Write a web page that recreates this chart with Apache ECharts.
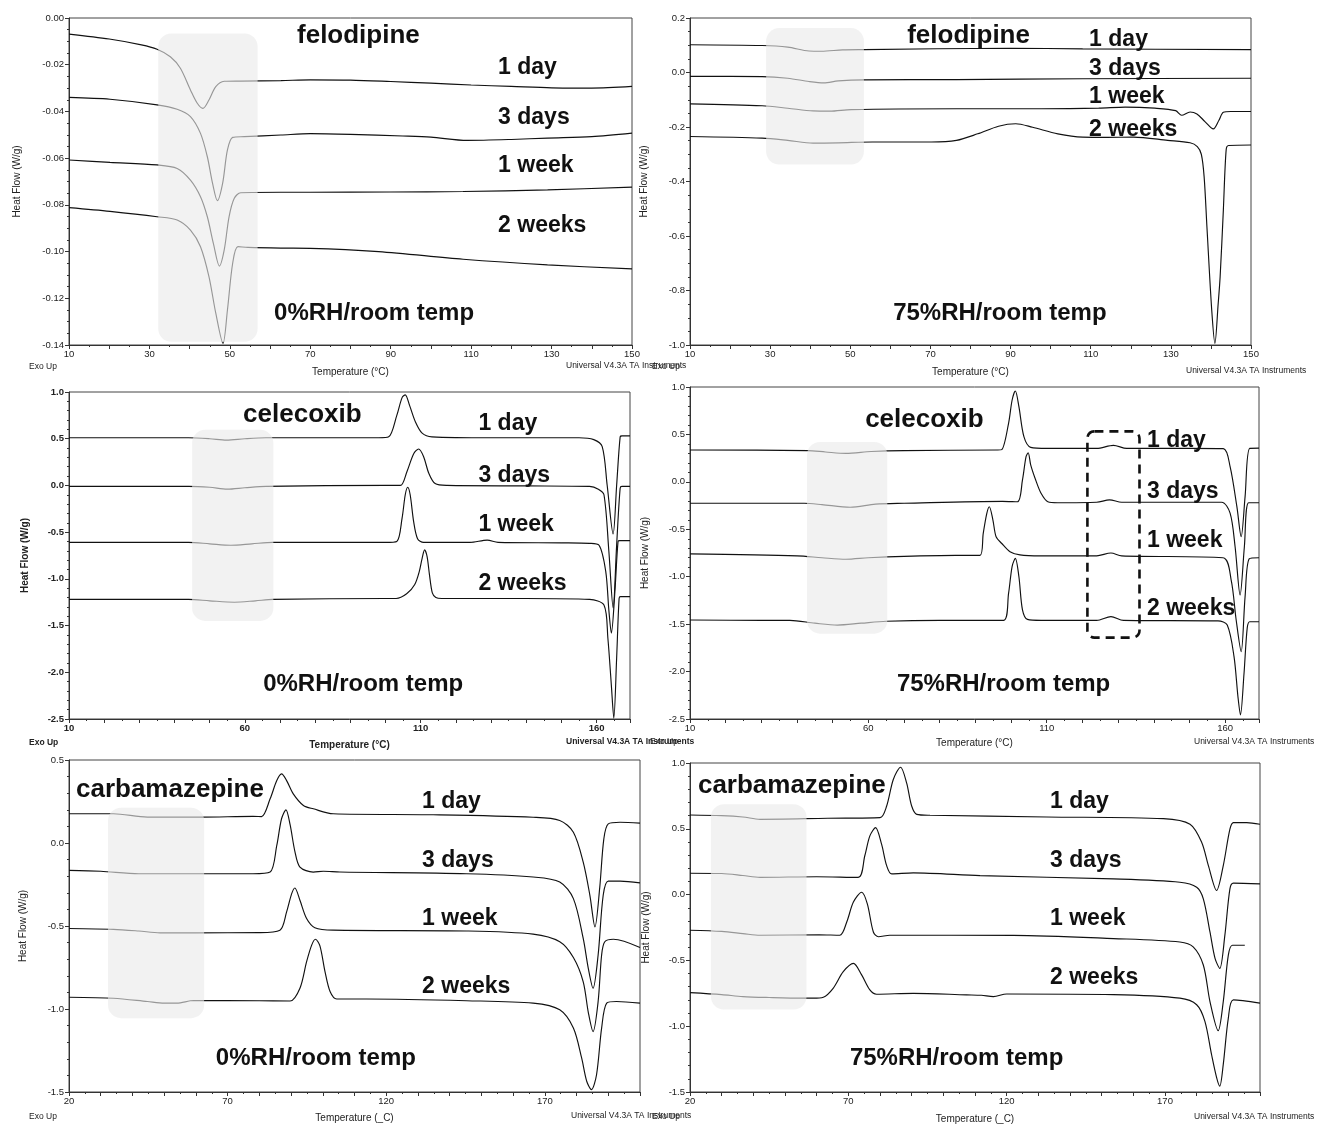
<!DOCTYPE html>
<html><head><meta charset="utf-8">
<script src="https://cdn.jsdelivr.net/npm/echarts@6/dist/echarts.min.js"></script>
<style>html,body{margin:0;padding:0;background:#fff}#c{width:1322px;height:1125px}</style>
</head><body><div id="c"></div>
<script>
// ---------------- DATA (temperature °C, heat flow W/g) ----------------
const dayLabels = ['1 day', '3 days', '1 week', '2 weeks'];
const compoundNames = ['felodipine', 'felodipine', 'celecoxib', 'celecoxib', 'carbamazepine', 'carbamazepine'];
const conditionLabels = ['0%RH/room temp', '75%RH/room temp', '0%RH/room temp', '75%RH/room temp', '0%RH/room temp', '75%RH/room temp'];

// felodipine 0%RH
const felo0_1day = [[10,-0.0069],[20,-0.0090],[28,-0.0115],[31.9,-0.0134],[35.2,-0.0166],[37.7,-0.0215],[40.2,-0.0308],[41.9,-0.0365],[43.3,-0.0387],[44.8,-0.0351],[46.5,-0.0294],[48.6,-0.0271],[52.7,-0.0270],[62.7,-0.0268],[70,-0.0265],[80,-0.0266],[90,-0.0272],[100,-0.0279],[110,-0.0287],[120,-0.0293],[130,-0.0299],[140,-0.0300],[150,-0.0293]];
const felo0_3day = [[10,-0.0340],[20.2,-0.0348],[31.9,-0.0372],[36.9,-0.0391],[40.2,-0.0422],[42.7,-0.0494],[44.4,-0.0594],[45.7,-0.0708],[46.9,-0.0782],[48.2,-0.0708],[49.4,-0.0565],[50.7,-0.0511],[53.6,-0.0508],[62.7,-0.0501],[70,-0.0495],[80,-0.0498],[93,-0.0505],[100,-0.0510],[109,-0.0524],[120,-0.0520],[129,-0.0514],[140,-0.0508],[150,-0.0493]];
const felo0_1week = [[10,-0.0608],[20.2,-0.0618],[31.9,-0.0629],[36.9,-0.0644],[40.2,-0.0694],[42.7,-0.0765],[44.4,-0.0851],[45.9,-0.0965],[47.4,-0.1062],[48.6,-0.0993],[49.8,-0.0851],[51.1,-0.0772],[52.7,-0.0748],[62.7,-0.0746],[70,-0.0746],[90,-0.0745],[108,-0.0743],[129,-0.0736],[150,-0.0724]];
const felo0_2week = [[10,-0.0812],[20.2,-0.0828],[31.9,-0.0851],[36.9,-0.0865],[40.2,-0.0908],[42.7,-0.0979],[44.8,-0.1107],[46.5,-0.1264],[48.3,-0.1393],[49.4,-0.1250],[50.7,-0.1050],[52.0,-0.0979],[54.5,-0.0982],[62.7,-0.0985],[70,-0.0986],[87,-0.1000],[108,-0.1033],[129,-0.1057],[150,-0.1074]];

// felodipine 75%RH
const felo75_1day = [[10,0.102],[28,0.099],[34.4,0.093],[39.7,0.079],[42.8,0.078],[48.1,0.083],[53.4,0.084],[90,0.089],[108,0.0865],[150,0.084]];
const felo75_3day = [[10,-0.014],[28,-0.015],[34.4,-0.021],[39.7,-0.033],[43.4,-0.038],[47,-0.031],[53.4,-0.027],[76.5,-0.026],[108,-0.023],[150,-0.021]];
const felo75_1week = [[10,-0.115],[28,-0.122],[34.4,-0.131],[40.7,-0.141],[44.9,-0.142],[50.2,-0.136],[76.5,-0.133],[97.6,-0.133],[112,-0.131],[118.6,-0.127],[126,-0.131],[131.2,-0.140],[132.7,-0.157],[134.8,-0.145],[136.5,-0.152],[138.5,-0.180],[140.6,-0.207],[142,-0.175],[143.1,-0.146],[145,-0.143],[150,-0.143]];
const felo75_2week = [[10,-0.235],[28,-0.241],[34.4,-0.249],[40.7,-0.259],[47,-0.258],[55.5,-0.255],[70.2,-0.255],[76.5,-0.249],[81.8,-0.225],[87,-0.197],[91.3,-0.188],[95.5,-0.201],[101.8,-0.225],[108,-0.237],[114,-0.238],[120.7,-0.237],[129.2,-0.249],[134.8,-0.258],[136.6,-0.272],[137.6,-0.300],[138.3,-0.382],[139,-0.566],[140.2,-0.872],[141,-0.994],[141.8,-0.850],[142.3,-0.749],[143.1,-0.505],[143.8,-0.284],[144.4,-0.268],[150,-0.266]];

// celecoxib 0%RH
const cele0_1day = [[10,0.51],[44,0.51],[50,0.50],[54.8,0.485],[60,0.50],[66,0.51],[98,0.51],[100.9,0.52],[103.2,0.75],[104.7,0.94],[105.6,0.97],[106.8,0.86],[108.5,0.68],[110.4,0.56],[113.2,0.52],[130,0.51],[155,0.51],[159.2,0.49],[161.6,0.415],[163,0.005],[164.7,-0.52],[165.7,0.0],[166.7,0.52],[167.2,0.53],[169.5,0.53]];
const cele0_3day = [[10,-0.01],[44,-0.01],[50,-0.02],[55,-0.04],[60,-0.025],[66,-0.01],[100,0.0],[104.2,0.0],[106.1,0.15],[108,0.34],[109.4,0.39],[110.8,0.31],[112.3,0.13],[114.1,0.02],[117.5,0.0],[140,-0.005],[158,-0.01],[160.5,-0.04],[162.1,-0.10],[163.5,-0.71],[164.7,-1.31],[165.7,-0.64],[166.7,-0.03],[167.2,-0.01],[169.5,-0.01]];
const cele0_1week = [[10,-0.61],[44,-0.61],[50,-0.625],[56,-0.64],[62,-0.625],[68,-0.61],[100,-0.61],[103.2,-0.60],[104.7,-0.35],[105.6,-0.10],[106.3,-0.02],[107,-0.10],[108,-0.39],[109.1,-0.57],[110.8,-0.61],[124,-0.61],[128.9,-0.585],[132,-0.61],[150,-0.615],[158,-0.62],[160.7,-0.64],[162.6,-0.92],[163.5,-1.34],[164.2,-1.58],[165.2,-1.14],[166.1,-0.60],[166.6,-0.59],[169.5,-0.59]];
const cele0_2week = [[10,-1.22],[44,-1.22],[50,-1.235],[57,-1.25],[63,-1.235],[68,-1.22],[100,-1.21],[103,-1.21],[106,-1.16],[108.3,-1.06],[109.6,-0.92],[110.4,-0.78],[111.1,-0.69],[111.8,-0.76],[112.5,-0.96],[113.3,-1.15],[114.3,-1.20],[116,-1.21],[140,-1.21],[158,-1.22],[162.1,-1.28],[163.2,-1.63],[164.2,-2.14],[164.9,-2.49],[165.7,-1.85],[166.4,-1.21],[166.8,-1.19],[169.5,-1.19]];

// celecoxib 75%RH
const cele75_1day = [[10,0.336],[43,0.33],[48,0.315],[53.7,0.30],[60.8,0.32],[70,0.33],[96.2,0.336],[97.4,0.34],[99.3,0.617],[100.3,0.863],[101.2,0.958],[102.2,0.792],[103.6,0.476],[105.5,0.364],[110.1,0.353],[124,0.353],[128.7,0.385],[132.4,0.353],[150,0.353],[159.5,0.35],[161.4,0.16],[163.3,-0.262],[164.5,-0.578],[165.6,-0.156],[166.9,0.353],[169.5,0.355]];
const cele75_3day = [[10,-0.226],[42,-0.226],[47,-0.24],[54.9,-0.268],[62,-0.235],[70,-0.226],[97.6,-0.205],[101.8,-0.21],[103.2,0.02],[104.2,0.265],[104.8,0.307],[105.5,0.18],[106.9,0.02],[108.4,-0.12],[110.3,-0.21],[113.1,-0.22],[124,-0.215],[127.6,-0.19],[131,-0.215],[159,-0.215],[161.4,-0.33],[162.8,-0.684],[164.2,-1.193],[165.4,-0.684],[166.6,-0.22],[169.5,-0.22]];
const cele75_1week = [[10,-0.76],[40,-0.78],[47,-0.80],[53.7,-0.816],[60,-0.80],[70,-0.785],[84.4,-0.775],[91.3,-0.775],[92.2,-0.543],[93.2,-0.332],[93.9,-0.262],[94.9,-0.40],[95.8,-0.578],[97.4,-0.65],[99.7,-0.736],[102.5,-0.77],[108.2,-0.78],[124,-0.78],[128,-0.75],[131,-0.78],[159.4,-0.80],[161.7,-1.035],[163.1,-1.456],[164.5,-1.79],[165.6,-1.21],[166.8,-0.81],[169.5,-0.80]];
const cele75_2week = [[10,-1.456],[30,-1.46],[38,-1.46],[45,-1.49],[51.3,-1.51],[58,-1.49],[65,-1.47],[80,-1.46],[97.9,-1.46],[99.3,-1.175],[100.3,-0.89],[101.2,-0.806],[102.2,-1.0],[103.2,-1.35],[104.6,-1.45],[108.4,-1.46],[124,-1.46],[128,-1.42],[131.5,-1.46],[158,-1.465],[160.6,-1.51],[162.5,-1.843],[163.6,-2.265],[164.3,-2.458],[165.3,-2.02],[166.2,-1.54],[166.9,-1.475],[169.5,-1.475]];

// carbamazepine 0%RH
const carb0_1day = [[20,0.176],[34,0.176],[44.7,0.156],[62,0.156],[78,0.16],[80.7,0.159],[83.4,0.266],[85.5,0.376],[87,0.416],[88.6,0.376],[90.7,0.296],[93.9,0.226],[97,0.206],[103.3,0.176],[134.8,0.17],[166.3,0.155],[174.7,0.136],[179,0.065],[182.1,-0.115],[184.2,-0.315],[185.8,-0.505],[187.3,-0.27],[188.6,0.025],[190,0.115],[193.7,0.125],[200,0.12]];
const carb0_3day = [[20,-0.165],[30,-0.17],[42,-0.185],[60,-0.185],[78,-0.185],[83.4,-0.175],[85.5,-0.015],[87,0.146],[88.4,0.20],[89.7,0.11],[91.2,-0.05],[92.8,-0.145],[97,-0.175],[100.2,-0.17],[105.4,-0.175],[145.3,-0.185],[166.3,-0.205],[174.7,-0.235],[179,-0.335],[182.1,-0.575],[183.7,-0.755],[185.2,-0.875],[186.8,-0.675],[188.4,-0.315],[190,-0.23],[193.7,-0.23],[200,-0.24]];
const carb0_1week = [[20,-0.515],[34,-0.52],[42,-0.53],[48.7,-0.541],[60,-0.541],[80,-0.54],[86.5,-0.525],[88.6,-0.415],[90.2,-0.305],[91.2,-0.271],[92.8,-0.345],[94.9,-0.455],[97.5,-0.51],[103.3,-0.525],[145.3,-0.53],[166.3,-0.549],[174.7,-0.595],[179,-0.69],[182.1,-0.836],[183.7,-1.02],[185.2,-1.136],[186.8,-0.955],[187.9,-0.675],[188.9,-0.595],[191.6,-0.58],[200,-0.63]];
const carb0_2week = [[20,-0.929],[34,-0.935],[44.7,-0.955],[50,-0.965],[54,-0.965],[59.3,-0.949],[80,-0.95],[89.7,-0.952],[92.8,-0.875],[94.9,-0.715],[96.5,-0.615],[97.7,-0.58],[99.1,-0.62],[100.7,-0.775],[102.3,-0.895],[104.4,-0.94],[113.8,-0.94],[145.3,-0.95],[166.3,-0.965],[174.7,-1.005],[179,-1.115],[181.6,-1.295],[183.2,-1.435],[184.7,-1.486],[186.3,-1.396],[187.9,-1.115],[189.5,-0.965],[192.6,-0.955],[200,-0.965]];

// carbamazepine 75%RH
const carb75_1day = [[20,0.605],[30,0.60],[36.7,0.59],[42.1,0.572],[63.5,0.58],[80,0.585],[82.1,0.673],[84.2,0.875],[86.5,0.968],[88.4,0.849],[90,0.673],[91.6,0.61],[95.8,0.603],[132.6,0.59],[169.5,0.577],[177.9,0.535],[181.6,0.396],[183.7,0.22],[186.3,0.031],[188.4,0.22],[190.5,0.497],[191.6,0.547],[195.8,0.547],[200,0.535]];
const carb75_3day = [[20,0.162],[30,0.16],[36.7,0.145],[42.1,0.131],[60,0.136],[73.1,0.131],[75.2,0.295],[76.8,0.446],[78.6,0.509],[80.5,0.383],[82.1,0.22],[83.7,0.157],[90.5,0.165],[111.6,0.144],[153.7,0.119],[174.7,0.094],[180,0.056],[182.1,-0.032],[184.2,-0.284],[185.8,-0.485],[187.3,-0.561],[188.9,-0.31],[190.5,0.044],[191.6,0.087],[200,0.081]];
const carb75_1week = [[20,-0.271],[30,-0.28],[36.7,-0.296],[42.1,-0.309],[60.8,-0.305],[67.3,-0.309],[69.5,-0.208],[71.6,-0.057],[74.2,0.018],[76,-0.07],[77.9,-0.284],[79.5,-0.32],[83.1,-0.309],[122.1,-0.31],[153.7,-0.334],[174.7,-0.36],[178.9,-0.397],[182.1,-0.535],[184.2,-0.813],[186.8,-1.034],[188.4,-0.813],[190,-0.46],[191.3,-0.385],[195.2,-0.385]];
const carb75_2week = [[20,-0.745],[30,-0.76],[36.7,-0.775],[45,-0.782],[55.5,-0.787],[58.9,-0.787],[62.1,-0.78],[65.2,-0.712],[68.4,-0.586],[71.6,-0.523],[74.2,-0.61],[76.8,-0.724],[78.9,-0.757],[90.5,-0.75],[107.3,-0.762],[112,-0.765],[115.8,-0.775],[120,-0.755],[153.7,-0.76],[174.7,-0.787],[180,-0.837],[182.6,-0.963],[184.7,-1.215],[186.3,-1.39],[187.3,-1.455],[188.4,-1.29],[190,-0.938],[191.6,-0.80],[200,-0.825]];

// highlighted regions [T1, v1, T2, v2]
const grayRegions = [
  [32.2, -0.0066, 56.9, -0.1386],
  [29, 0.163, 53.4, -0.338],
  [45, 0.595, 68.1, -1.45],
  [42.8, 0.42, 65.3, -1.60],
  [32.3, 0.213, 62.6, -1.055],
  [26.6, 0.687, 56.8, -0.874]
];
const dashedRegion = [121.4, 0.532, 136.0, -1.642];

// ---------------- LAYOUT ----------------
const FONT = '"Liberation Sans", Arial, Helvetica, sans-serif';
const panels = [
  {grid:{left:69,top:18,width:563,height:327}, xmin:10,xmax:150,xstep:10,xlab:20, ymin:-0.14,ymax:0,yint:0.02,ymin_split:4,dec:2,
   bold:false, xName:'Temperature (°C)', xGap:22, yGap:47,
   series:[felo0_1day,felo0_3day,felo0_1week,felo0_2week],
   comp:[66.7,-0.0077], dayX:116.7, dayY:[-0.0214,-0.0428,-0.0634,-0.0890], cond:[61,-0.1263]},
  {grid:{left:690,top:18,width:561,height:327}, xmin:10,xmax:150,xstep:10,xlab:20, ymin:-1.0,ymax:0.2,yint:0.2,ymin_split:4,dec:1,
   bold:false, xName:'Temperature (°C)', xGap:22, yGap:41,
   series:[felo75_1day,felo75_3day,felo75_1week,felo75_2week],
   comp:[64.2,0.134], dayX:109.6, dayY:[0.119,0.013,-0.090,-0.211], cond:[60.7,-0.883]},
  {grid:{left:69,top:392,width:561,height:327}, xmin:10,xmax:169.5,xstep:10,xlab:50, ymin:-2.5,ymax:1.0,yint:0.5,ymin_split:5,dec:1,
   bold:true, xName:'Temperature (°C)', xGap:21, yGap:39,
   series:[cele0_1day,cele0_3day,cele0_1week,cele0_2week],
   comp:[59.5,0.754], dayX:126.4, dayY:[0.658,0.101,-0.424,-1.055], cond:[65.2,-2.125]},
  {grid:{left:690,top:387,width:569,height:332}, xmin:10,xmax:169.5,xstep:10,xlab:50, ymin:-2.5,ymax:1.0,yint:0.5,ymin_split:5,dec:1,
   bold:false, xName:'Temperature (°C)', xGap:19, yGap:40,
   series:[cele75_1day,cele75_3day,cele75_1week,cele75_2week],
   comp:[59.1,0.652], dayX:138.1, dayY:[0.431,-0.107,-0.623,-1.340], cond:[68.0,-2.131]},
  {grid:{left:69,top:760,width:571,height:332}, xmin:20,xmax:200,xstep:10,xlab:50, ymin:-1.5,ymax:0.5,yint:0.5,ymin_split:5,dec:1,
   bold:false, xName:'Temperature (_C)', xGap:21, yGap:41,
   series:[carb0_1day,carb0_3day,carb0_1week,carb0_2week],
   comp:[22.2,0.319], dayX:131.3, dayY:[0.247,-0.108,-0.458,-0.867], cond:[66.3,-1.295]},
  {grid:{left:690,top:763,width:570,height:329}, xmin:20,xmax:200,xstep:10,xlab:50, ymin:-1.5,ymax:1.0,yint:0.5,ymin_split:5,dec:1,
   bold:false, xName:'Temperature (_C)', xGap:22, yGap:39,
   series:[carb75_1day,carb75_3day,carb75_1week,carb75_2week],
   comp:[22.5,0.825], dayX:133.7, dayY:[0.704,0.255,-0.185,-0.634], cond:[70.5,-1.242]}
];
const footers = [
  {exo:[29,367], uni:[566,366], bold:false},
  {exo:[652,367], uni:[1186,371], bold:false},
  {exo:[29,743], uni:[566,742], bold:true},
  {exo:[650,742], uni:[1194,742], bold:false},
  {exo:[29,1117], uni:[571,1116], bold:false},
  {exo:[652,1117], uni:[1194,1117], bold:false}
];

const chart = echarts.init(document.getElementById('c'), null, {renderer:'canvas'});
const grids = [], xAxes = [], yAxes = [], series = [];
const AX = '#333';
panels.forEach((p, k) => {
  grids.push(Object.assign({show:true, borderColor:'#444', borderWidth:1, backgroundColor:'transparent', containLabel:false}, p.grid));
  const fw = p.bold ? 'bold' : 'normal';
  xAxes.push({
    type:'value', gridIndex:k, min:p.xmin, max:p.xmax, interval:p.xstep,
    name:p.xName, nameLocation:'middle', nameGap:p.xGap,
    nameTextStyle:{fontSize:10, color:'#222', fontFamily:FONT, fontWeight:fw},
    axisLine:{show:true, onZero:false, lineStyle:{color:AX, width:1}},
    axisTick:{show:true, length:4, lineStyle:{color:AX}},
    minorTick:{show:true, splitNumber:2, length:2, lineStyle:{color:AX}},
    splitLine:{show:false},
    axisLabel:{fontSize:9.5, color:'#222', fontFamily:FONT, fontWeight:fw, margin:4, showMaxLabel:true,
      formatter:(v)=>{ const d = Math.round(v - p.xmin); return (Math.abs(v-Math.round(v))<1e-6 && d % p.xlab === 0) ? String(Math.round(v)) : ''; }}
  });
  yAxes.push({
    type:'value', gridIndex:k, min:p.ymin, max:p.ymax, interval:p.yint,
    name:'Heat Flow (W/g)', nameLocation:'middle', nameGap:p.yGap,
    nameTextStyle:{fontSize:10, color:'#222', fontFamily:FONT, fontWeight:fw},
    axisLine:{show:true, onZero:false, lineStyle:{color:AX, width:1}},
    axisTick:{show:true, length:4, lineStyle:{color:AX}},
    minorTick:{show:true, splitNumber:p.ymin_split, length:2, lineStyle:{color:AX}},
    splitLine:{show:false},
    axisLabel:{fontSize:9.5, color:'#222', fontFamily:FONT, fontWeight:fw, margin:5,
      formatter:(v)=>{ const s = v.toFixed(p.dec); return (parseFloat(s)===0) ? (0).toFixed(p.dec) : s; }}
  });
  p.series.forEach((d, j) => {
    series.push({
      type:'line', name:compoundNames[k]+' '+conditionLabels[k]+' '+dayLabels[j],
      xAxisIndex:k, yAxisIndex:k, data:d, showSymbol:false, symbol:'none',
      smooth:0.3, lineStyle:{color:'#111', width:1.15}, z:2, silent:true, animation:false
    });
  });
  // translucent grey highlight (lightens the curves below it)
  series.push({
    type:'custom', xAxisIndex:k, yAxisIndex:k, z:3, silent:true, animation:false, clip:false,
    data:[grayRegions[k]], encode:{x:[0,2], y:[1,3]},
    renderItem:(params, api)=>{
      const a = api.coord([api.value(0), api.value(1)]);
      const b = api.coord([api.value(2), api.value(3)]);
      return {type:'rect', shape:{x:a[0], y:a[1], width:b[0]-a[0], height:b[1]-a[1], r:13},
        style:{fill:'rgba(234,234,234,0.62)'}};
    }
  });
  if (k === 3) {
    series.push({
      type:'custom', xAxisIndex:k, yAxisIndex:k, z:4, silent:true, animation:false, clip:false,
      data:[dashedRegion], encode:{x:[0,2], y:[1,3]},
      renderItem:(params, api)=>{
        const a = api.coord([api.value(0), api.value(1)]);
        const b = api.coord([api.value(2), api.value(3)]);
        return {type:'rect', shape:{x:a[0], y:a[1], width:b[0]-a[0], height:b[1]-a[1], r:7},
          style:{fill:'none', stroke:'#111', lineWidth:2.6, lineDash:[9,6]}};
      }
    });
  }
  // annotation texts, placed in data coordinates
  const texts = [
    {s:compoundNames[k], f:26, pos:p.comp},
    {s:dayLabels[0], f:23, pos:[p.dayX,p.dayY[0]]},
    {s:dayLabels[1], f:23, pos:[p.dayX,p.dayY[1]]},
    {s:dayLabels[2], f:23, pos:[p.dayX,p.dayY[2]]},
    {s:dayLabels[3], f:23, pos:[p.dayX,p.dayY[3]]},
    {s:conditionLabels[k], f:24, pos:p.cond}
  ];
  series.push({
    type:'custom', xAxisIndex:k, yAxisIndex:k, z:5, silent:true, animation:false, clip:false,
    data:texts.map(t=>t.pos), encode:{x:0, y:1},
    renderItem:(params, api)=>{
      const t = texts[params.dataIndex];
      const pt = api.coord([api.value(0), api.value(1)]);
      return {type:'text', x:pt[0], y:pt[1],
        style:{text:t.s, fill:'#111', fontSize:t.f, fontWeight:'bold', fontFamily:FONT, align:'left', verticalAlign:'middle'}};
    }
  });
});

const graphic = [];
footers.forEach(f => {
  const fw = f.bold ? 'bold' : 'normal';
  graphic.push({type:'text', left:f.exo[0], top:f.exo[1]-5, silent:true,
    style:{text:'Exo Up', fontSize:8.5, fontFamily:FONT, fontWeight:fw, fill:'#222'}});
  graphic.push({type:'text', left:f.uni[0], top:f.uni[1]-5, silent:true,
    style:{text:'Universal V4.3A TA Instruments', fontSize:8.5, fontFamily:FONT, fontWeight:fw, fill:'#222'}});
});

chart.setOption({
  animation:false,
  backgroundColor:'#fff',
  grid:grids, xAxis:xAxes, yAxis:yAxes, series:series, graphic:graphic
});
</script>
</body></html>
